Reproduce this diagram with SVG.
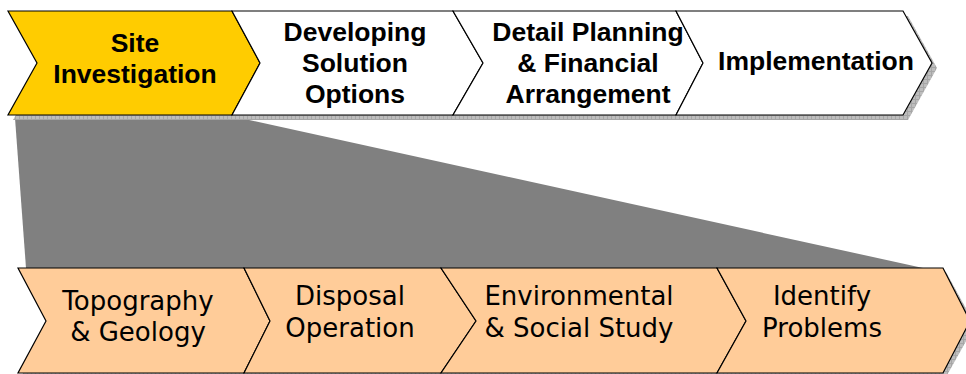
<svg xmlns="http://www.w3.org/2000/svg" width="966" height="374" viewBox="0 0 966 374">
<defs>
<pattern id="sh" width="4" height="4" patternUnits="userSpaceOnUse">
<rect width="4" height="4" fill="#a6a6a6"/>
<rect width="3" height="3" fill="#bdbdbd"/>
</pattern>
<style>
.box{stroke:#000;stroke-width:1.2;stroke-linejoin:miter}
.top{fill:#fff}
.sel{fill:#FFCC00}
.bot{fill:#FFCC99}
.shadow{fill:url(#sh)}
.t1{font-family:"Liberation Sans",Arial,sans-serif;font-weight:bold;font-size:26.5px;fill:#000;text-anchor:middle}
.t2{font-family:"DejaVu Sans",Verdana,sans-serif;font-size:26px;fill:#000;text-anchor:middle}
</style>
</defs>
<rect width="966" height="374" fill="#fff"/>
<g id="zoom-funnel">
<polygon points="15,118 240,118 923,268 26,268" fill="#808080"/>
</g>
<g id="top-shadow">
<polygon class="shadow" points="13,16 908,16 937,68 908,120 13,120 42,68"/>
</g>
<g id="bottom-shadow">
<polygon class="shadow" points="21,272 946,272 975,325 946,377 21,377 49,325"/>
</g>
<g id="site-investigation">
<polygon class="box sel" points="8,11 232,11 260,63 232,115 8,115 37,63"/>
<text class="t1" x="135" y="52">Site</text>
<text class="t1" x="135" y="83">Investigation</text>
</g>
<g id="developing-solution-options">
<polygon class="box top" points="232,11 453,11 483,63 453,115 232,115 260,63"/>
<text class="t1" x="355" y="41">Developing</text>
<text class="t1" x="355" y="72">Solution</text>
<text class="t1" x="355" y="103">Options</text>
</g>
<g id="detail-planning">
<polygon class="box top" points="453,11 676,11 703,63 676,115 453,115 483,63"/>
<text class="t1" x="588" y="41">Detail Planning</text>
<text class="t1" x="588" y="72">&amp; Financial</text>
<text class="t1" x="588" y="103">Arrangement</text>
</g>
<g id="implementation">
<polygon class="box top" points="676,11 903,11 932,63 903,115 676,115 703,63"/>
<text class="t1" x="816" y="70">Implementation</text>
</g>
<g id="topography-geology">
<polygon class="box bot" points="18,268 244,268 270,321 244,373 18,373 46,321"/>
<text class="t2" x="138" y="310">Topography</text>
<text class="t2" x="138" y="341">&amp; Geology</text>
</g>
<g id="disposal-operation">
<polygon class="box bot" points="244,268 441,268 476,321 441,373 244,373 270,321"/>
<text class="t2" x="350" y="305">Disposal</text>
<text class="t2" x="350" y="337">Operation</text>
</g>
<g id="environmental-social-study">
<polygon class="box bot" points="441,268 717,268 746,321 717,373 441,373 476,321"/>
<text class="t2" x="579" y="305">Environmental</text>
<text class="t2" x="579" y="337">&amp; Social Study</text>
</g>
<g id="identify-problems">
<polygon class="box bot" points="717,268 943,268 970,321 943,373 717,373 746,321"/>
<text class="t2" x="822" y="305">Identify</text>
<text class="t2" x="822" y="337">Problems</text>
</g>
<g id="connectors"></g>
</svg>
